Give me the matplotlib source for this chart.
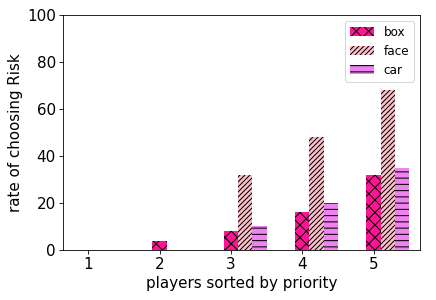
import matplotlib
matplotlib.use("Agg")
import matplotlib.pyplot as plt
import numpy as np

players = [1, 2, 3, 4, 5]
box = [0, 4, 8, 16, 32]
face = [0, 0, 32, 48, 68]
car = [0, 0, 10, 20, 35]

x = np.array(players)
w = 0.2
plt.rcParams['font.size'] = 14.5
plt.rcParams['hatch.linewidth'] = 1.0
fig, ax = plt.subplots(figsize=(436 / 75, 300 / 75), dpi=75)
ax.bar(x, box, w, color='deeppink', hatch='xx', edgecolor='black', linewidth=0, label='box')
ax.bar(x + w, face, w, color='pink', hatch='/////', edgecolor='black', linewidth=0, label='face')
ax.bar(x + 2 * w, car, w, color='violet', hatch='--', edgecolor='black', linewidth=0, label='car')
ax.set_xticks(players)
ax.set_ylim(0, 100)
ax.set_xlim(0.65, 5.65)
ax.set_xlabel('players sorted by priority')
ax.set_ylabel('rate of choosing Risk')
ax.legend(loc='upper right', fontsize=11.5)
plt.subplots_adjust(left=0.145, right=0.963, top=0.95, bottom=0.167)
plt.savefig('out.png', dpi=75)
